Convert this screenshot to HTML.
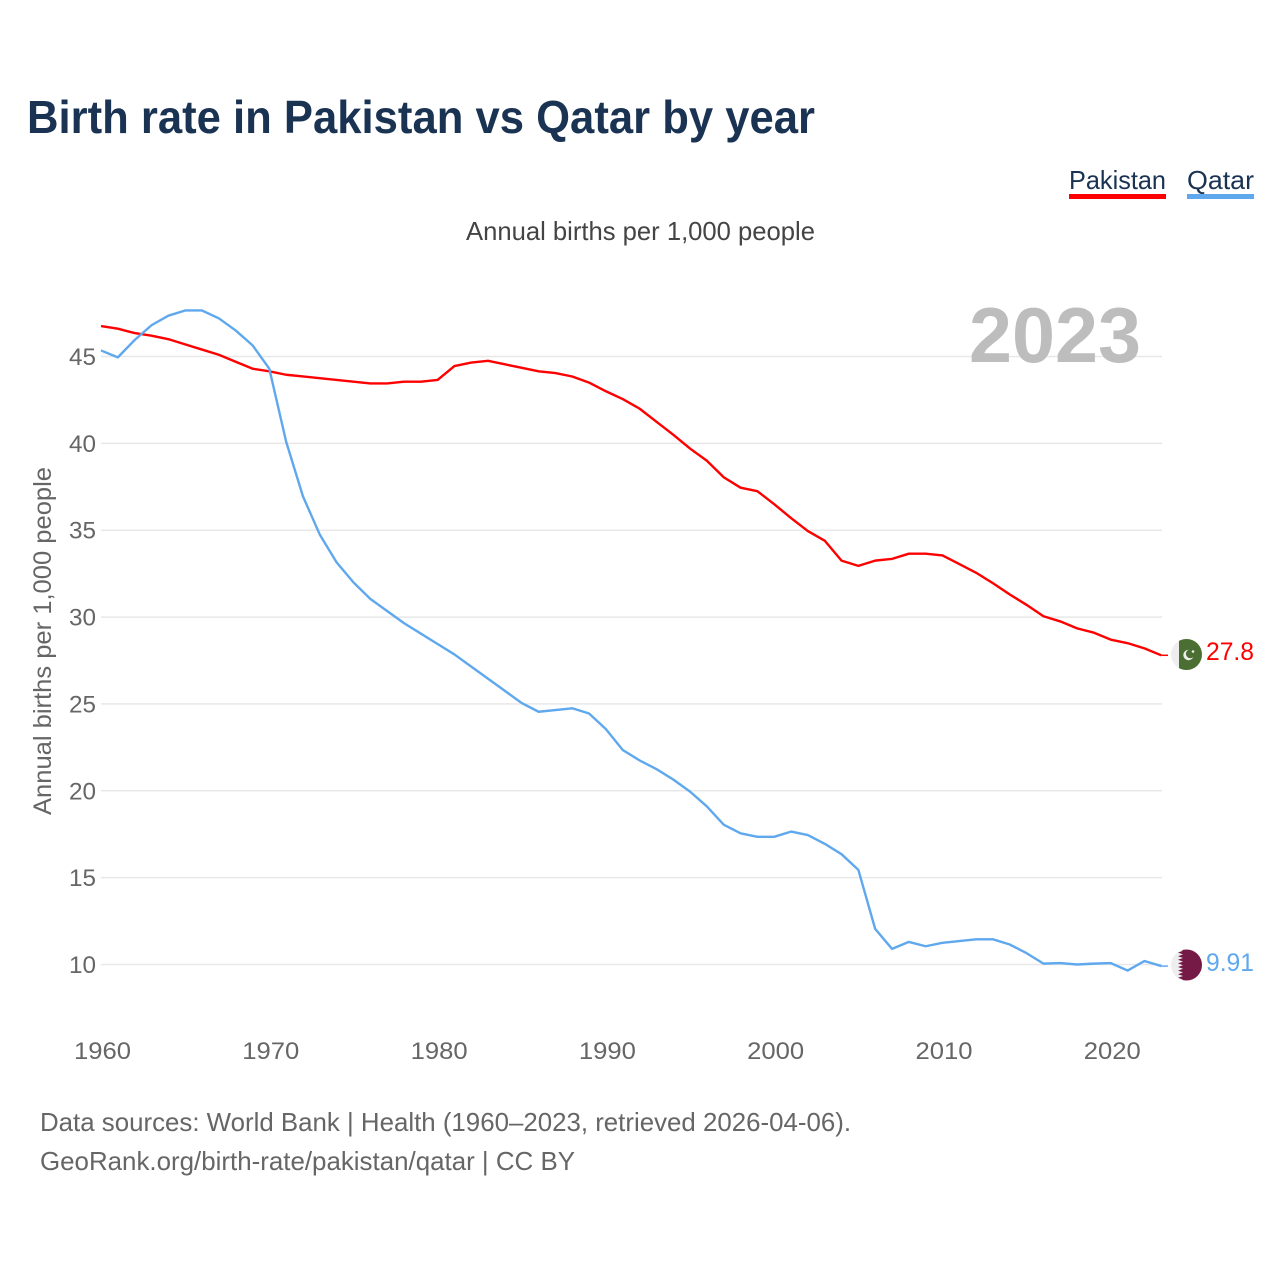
<!DOCTYPE html>
<html lang="en">
<head>
<meta charset="utf-8">
<title>Birth rate in Pakistan vs Qatar by year</title>
<style>
html,body{margin:0;padding:0;background:#fff;}
svg{display:block;font-family:"Liberation Sans",sans-serif;}
</style>
</head>
<body>
<svg id="chart" xmlns="http://www.w3.org/2000/svg" width="1280" height="1280" viewBox="0 0 1280 1280">
  <rect x="0" y="0" width="1280" height="1280" fill="#fff"/>
  <text x="27" y="133" font-size="46" font-weight="700" fill="#1a3353" textLength="788" lengthAdjust="spacingAndGlyphs">Birth rate in Pakistan vs Qatar by year</text>
  <g>
    <text x="1069" y="189" font-size="26" fill="#1a3353" textLength="97" lengthAdjust="spacingAndGlyphs">Pakistan</text>
    <rect x="1069" y="194" width="97" height="5" fill="#ff0000"/>
  </g>
  <g>
    <text x="1187" y="189" font-size="26" fill="#1a3353" textLength="67" lengthAdjust="spacingAndGlyphs">Qatar</text>
    <rect x="1187" y="194" width="67" height="5" fill="#5fa8ee"/>
  </g>
  <text x="466" y="240" font-size="26" fill="#444" textLength="349" lengthAdjust="spacingAndGlyphs">Annual births per 1,000 people</text>
  <g id="grid"></g>
  <g id="y-ticks"></g>
  <g id="x-ticks"></g>
  <text transform="translate(51,815) rotate(-90)" font-size="25" fill="#666" textLength="348" lengthAdjust="spacingAndGlyphs">Annual births per 1,000 people</text>
  <text x="969" y="362" font-size="78" font-weight="700" fill="#bdbdbd" textLength="172" lengthAdjust="spacingAndGlyphs">2023</text>
  <g id="series"></g>
  <defs>
    <clipPath id="pk-clip"><circle cx="1186.5" cy="654.5" r="15.5"/></clipPath>
    <clipPath id="qa-clip"><circle cx="1186.5" cy="965" r="15.5"/></clipPath>
  </defs>
  <g clip-path="url(#pk-clip)">
    <rect x="1171" y="638" width="31" height="33" fill="#eeeeee"/>
    <rect x="1179" y="638" width="23" height="33" fill="#4b6e32"/>
    <circle cx="1188.5" cy="655" r="5.2" fill="#eeeeee"/>
    <circle cx="1190.3" cy="653.8" r="4.4" fill="#4b6e32"/>
    <circle cx="1193" cy="651.5" r="1.3" fill="#eeeeee"/>
  </g>
  <g clip-path="url(#qa-clip)">
    <rect x="1171" y="949" width="31" height="32" fill="#eeeeee"/>
    <polygon fill="#751a46" points="1202,949 1178,949 1183,950.8 1178,952.6 1183,954.4 1178,956.2 1183,958 1178,959.8 1183,961.6 1178,963.4 1183,965.2 1178,967 1183,968.8 1178,970.6 1183,972.4 1178,974.2 1183,976 1178,977.8 1183,979.6 1178,981 1202,981"/>
  </g>
  <text id="value-pakistan" x="1206" y="660" font-size="25" fill="#ff0000" textLength="48" lengthAdjust="spacingAndGlyphs"></text>
  <text id="value-qatar" x="1206" y="971" font-size="25" fill="#5fa8ee" textLength="48" lengthAdjust="spacingAndGlyphs"></text>
  <text x="40" y="1131" font-size="26" fill="#666" textLength="811" lengthAdjust="spacingAndGlyphs">Data sources: World Bank | Health (1960–2023, retrieved 2026-04-06).</text>
  <text x="40" y="1170" font-size="26" fill="#666" textLength="535" lengthAdjust="spacingAndGlyphs">GeoRank.org/birth-rate/pakistan/qatar | CC BY</text>
</svg>
<script>
const startYear = 1960;
const pakistanValues = [46.75,46.6,46.35,46.2,46.0,45.7,45.4,45.1,44.7,44.3,44.15,43.95,43.85,43.75,43.65,43.55,43.45,43.45,43.55,43.55,43.65,44.45,44.65,44.75,44.55,44.35,44.15,44.05,43.85,43.5,43.0,42.55,42.0,41.25,40.5,39.7,39.0,38.05,37.45,37.25,36.5,35.7,34.95,34.4,33.25,32.95,33.25,33.35,33.65,33.65,33.55,33.05,32.55,31.95,31.3,30.7,30.05,29.75,29.35,29.1,28.7,28.5,28.2,27.8];
const qatarValues = [45.35,44.95,45.95,46.8,47.35,47.65,47.65,47.2,46.5,45.65,44.3,40.1,36.95,34.75,33.15,32.0,31.05,30.35,29.65,29.05,28.45,27.85,27.15,26.45,25.75,25.05,24.55,24.65,24.75,24.45,23.55,22.35,21.75,21.25,20.65,19.95,19.1,18.05,17.55,17.35,17.35,17.65,17.45,16.95,16.35,15.45,12.05,10.9,11.3,11.05,11.25,11.35,11.45,11.45,11.15,10.65,10.05,10.08,10.0,10.05,10.08,9.65,10.2,9.91];
const yTickValues = [10,15,20,25,30,35,40,45];
const xTickYears = [1960,1970,1980,1990,2000,2010,2020];
const pakistanLabel = "27.8";
const qatarLabel = "9.91";

const NS = 'http://www.w3.org/2000/svg';
const xScale = year => 101 + (year - 1960) * 16.83;
const yScale = value => 964.5 - (value - 10) * 17.371;

const gridGroup = document.getElementById('grid');
const yTickGroup = document.getElementById('y-ticks');
const xTickGroup = document.getElementById('x-ticks');
const seriesGroup = document.getElementById('series');

yTickValues.forEach(v => {
  const line = document.createElementNS(NS, 'line');
  
  
  line.setAttribute('x1', 101);
  line.setAttribute('x2', 1162);
  line.setAttribute('y1', yScale(v));
  line.setAttribute('y2', yScale(v));
  line.setAttribute('stroke', '#e8e8e8');
  line.setAttribute('stroke-width', '1.5');
  gridGroup.appendChild(line);

  const label = document.createElementNS(NS, 'text');
  
  
  label.setAttribute('x', 69);
  label.setAttribute('y', yScale(v) + 8.5);
  label.setAttribute('font-size', '24');
  label.setAttribute('fill', '#666');
  label.setAttribute('textLength', '27');
  label.setAttribute('lengthAdjust', 'spacingAndGlyphs');
  label.textContent = v;
  yTickGroup.appendChild(label);
});

xTickYears.forEach(y => {
  const label = document.createElementNS(NS, 'text');
  
  
  label.setAttribute('x', xScale(y) - 27);
  label.setAttribute('y', 1059);
  label.setAttribute('font-size', '24');
  label.setAttribute('fill', '#666');
  label.setAttribute('textLength', '57');
  label.setAttribute('lengthAdjust', 'spacingAndGlyphs');
  label.textContent = y;
  xTickGroup.appendChild(label);
});

function drawSeries(values, color, name) {
  const pts = values.map((v, i) => xScale(startYear + i).toFixed(2) + ',' + yScale(v).toFixed(2));
  const path = document.createElementNS(NS, 'polyline');
  
  
  path.setAttribute('points', pts.join(' '));
  path.setAttribute('fill', 'none');
  path.setAttribute('stroke', color);
  path.setAttribute('stroke-width', '2.4');
  path.setAttribute('stroke-linejoin', 'round');
  seriesGroup.appendChild(path);

  const last = values[values.length - 1];
  const lead = document.createElementNS(NS, 'line');
  
  
  lead.setAttribute('x1', xScale(startYear + values.length - 1));
  lead.setAttribute('x2', 1168);
  lead.setAttribute('y1', yScale(last));
  lead.setAttribute('y2', yScale(last));
  lead.setAttribute('stroke', color);
  lead.setAttribute('stroke-width', '1.5');
  seriesGroup.appendChild(lead);
}
drawSeries(pakistanValues, '#ff0000', 'pakistan-line');
drawSeries(qatarValues, '#5fa8ee', 'qatar-line');

document.getElementById('value-pakistan').textContent = pakistanLabel;
document.getElementById('value-qatar').textContent = qatarLabel;
</script>
</body>
</html>
